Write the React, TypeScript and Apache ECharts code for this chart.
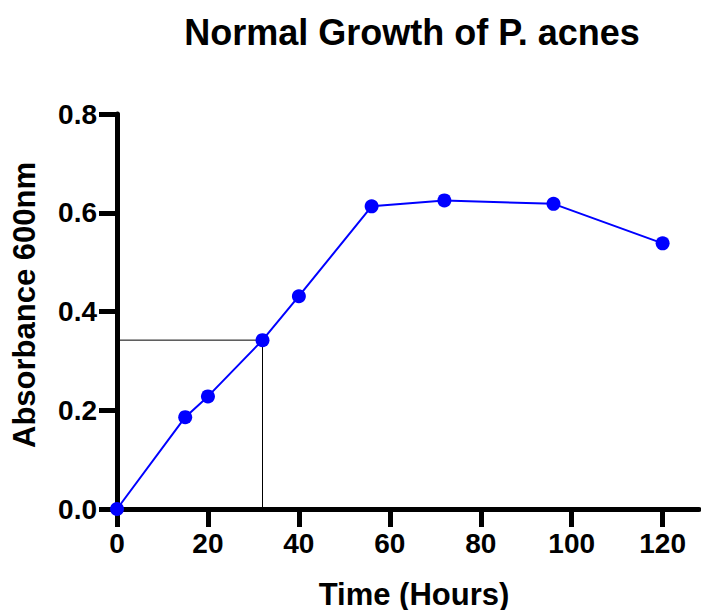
import React, { useEffect, useRef } from "react";
import * as echarts from "echarts";

const timeHours = [0, 15, 20, 32, 40, 56, 72, 96, 120];
const absorbance = [0, 0.186, 0.228, 0.342, 0.431, 0.613, 0.625, 0.618, 0.538];
const refTime = 32;
const refAbs = 0.342;
const xTickValues = [0, 20, 40, 60, 80, 100, 120];
const titleText = "Normal Growth of P. acnes";
const xTitle = "Time (Hours)";
const yTitle = "Absorbance 600nm";

const FONT = "'Liberation Sans', Arial, sans-serif";

export default function App() {
  const ref = useRef<HTMLDivElement>(null);
  useEffect(() => {
    document.body.style.margin = "0";
    if (!ref.current) return;
    const chart = echarts.init(ref.current, undefined, { renderer: "svg" });
    const growth = timeHours.map((t, i) => [t, absorbance[i]]);
    const guide = [
      [0, refAbs],
      [refTime, refAbs],
      [refTime, 0],
    ];
    chart.setOption({
      animation: false,
      backgroundColor: "#ffffff",
      grid: { left: 117, top: 114, right: 2, bottom: 101, containLabel: false },
      xAxis: {
        type: "value",
        min: 0,
        max: 128,
        interval: 20,
        splitLine: { show: false },
        axisLine: { show: true, onZero: false, lineStyle: { color: "#000", width: 5 } },
        axisTick: { show: true, length: 18, customValues: xTickValues, lineStyle: { color: "#000", width: 5 } },
        axisLabel: {
          customValues: xTickValues,
          margin: 20,
          color: "#000",
          fontFamily: FONT,
          fontWeight: "bold",
          fontSize: 28,
        },
      },
      yAxis: {
        type: "value",
        min: 0,
        max: 0.8,
        interval: 0.2,
        splitLine: { show: false },
        axisLine: { show: true, onZero: false, lineStyle: { color: "#000", width: 5 } },
        axisTick: { show: true, length: 18, lineStyle: { color: "#000", width: 5 } },
        axisLabel: {
          margin: 20,
          color: "#000",
          fontFamily: FONT,
          fontWeight: "bold",
          fontSize: 28,
          formatter: (v: number) => v.toFixed(1),
        },
      },
      graphic: [
        {
          type: "text",
          x: 412,
          y: 32,
          style: {
            text: titleText,
            fontFamily: FONT,
            fontWeight: "bold",
            fontSize: 36,
            fill: "#000",
            align: "center",
            verticalAlign: "middle",
          },
        },
        {
          type: "text",
          x: 414,
          y: 594,
          style: {
            text: xTitle,
            fontFamily: FONT,
            fontWeight: "bold",
            fontSize: 31,
            fill: "#000",
            align: "center",
            verticalAlign: "middle",
          },
        },
        {
          type: "text",
          x: 24,
          y: 305,
          rotation: Math.PI / 2,
          style: {
            text: yTitle,
            fontFamily: FONT,
            fontWeight: "bold",
            fontSize: 31,
            fill: "#000",
            align: "center",
            verticalAlign: "middle",
          },
        },
      ],
      series: [
        {
          type: "line",
          data: guide,
          symbol: "none",
          lineStyle: { color: "#000", width: 1 },
          z: 1,
          silent: true,
        },
        {
          type: "line",
          data: growth,
          symbol: "circle",
          symbolSize: 14,
          itemStyle: { color: "#0000ff" },
          lineStyle: { color: "#0000ff", width: 2 },
          z: 3,
        },
      ],
    });
    return () => chart.dispose();
  }, []);
  return <div ref={ref} style={{ width: 701, height: 610 }} />;
}
